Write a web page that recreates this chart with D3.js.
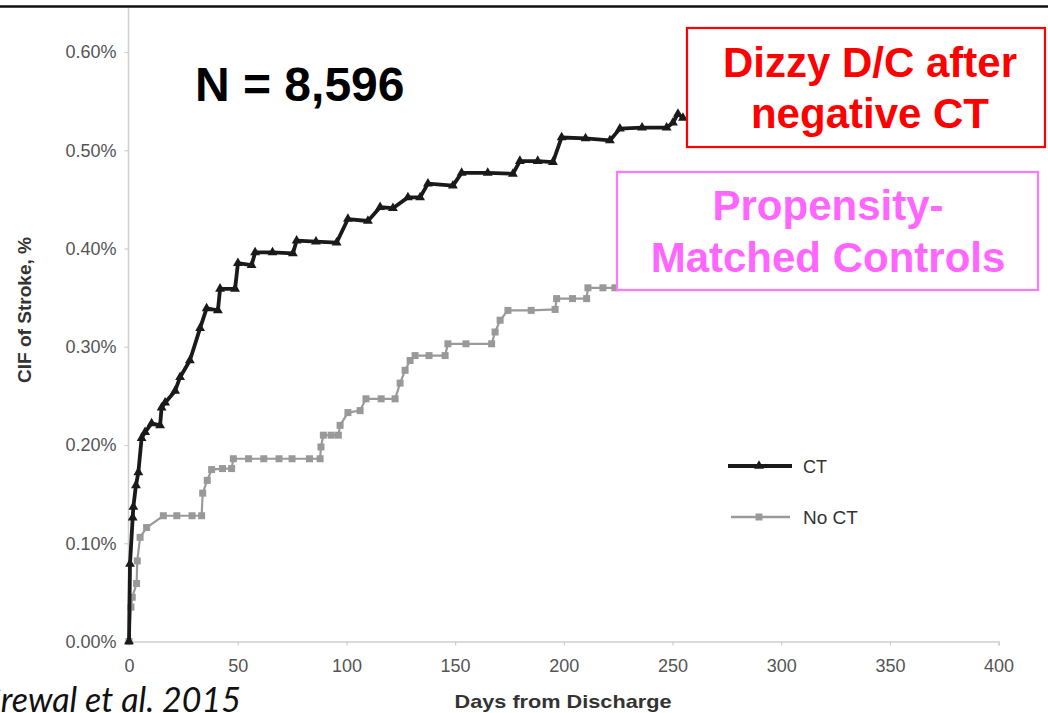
<!DOCTYPE html>
<html>
<head>
<meta charset="utf-8">
<script src="https://cdn.jsdelivr.net/npm/d3@7"></script>
<style>
  html, body { margin: 0; padding: 0; background: #fff; }
  svg { display: block; }
</style>
</head>
<body>
<svg id="chart" width="1048" height="713"></svg>
<script>
// ---- Data ----
const ctDays = [0, 0.46, 1.7, 2.0, 3.2, 4.3, 5.8, 7.4, 10.4, 14.3, 15.0, 16.6, 21.2, 23.5, 28, 32.7, 35.7, 40.9, 41.9, 48.8, 50.1, 56.4, 58, 66, 75.4, 77.1, 86, 95.5, 100.7, 109.9, 115.5, 121.4, 128.3, 133.9, 137.5, 149, 153, 165, 176.6, 179.8, 188, 195, 199, 210, 221.2, 225.8, 236, 247.3, 250.2, 252.5, 254.8];
const ctValues = [0, 0.079, 0.126, 0.137, 0.159, 0.172, 0.207, 0.213, 0.222, 0.220, 0.238, 0.243, 0.255, 0.269, 0.286, 0.319, 0.339, 0.337, 0.359, 0.359, 0.385, 0.383, 0.396, 0.396, 0.395, 0.408, 0.407, 0.406, 0.430, 0.428, 0.442, 0.441, 0.452, 0.452, 0.466, 0.464, 0.477, 0.477, 0.476, 0.489, 0.489, 0.488, 0.513, 0.512, 0.510, 0.522, 0.523, 0.523, 0.528, 0.537, 0.533];

const noCtDays = [0, 0.9, 1.5, 3.5, 3.8, 5.1, 8.1, 15.8, 22, 29, 33.4, 33.9, 36, 38, 43, 47.2, 48, 55, 62, 69, 75, 83, 87.9, 88.3, 89.4, 93, 96.3, 97.1, 100.7, 106.3, 109, 116, 122.4, 124.7, 127, 129.3, 131.6, 138, 145.4, 146.7, 155, 166.8, 168.4, 170.7, 174.3, 185, 196, 196.7, 204, 210.5, 211.1, 218, 223.5];
const noCtValues = [0, 0.035, 0.045, 0.059, 0.082, 0.106, 0.116, 0.128, 0.128, 0.128, 0.128, 0.151, 0.164, 0.175, 0.176, 0.176, 0.186, 0.186, 0.186, 0.186, 0.186, 0.186, 0.186, 0.198, 0.210, 0.210, 0.210, 0.220, 0.233, 0.235, 0.247, 0.247, 0.247, 0.263, 0.276, 0.286, 0.291, 0.291, 0.291, 0.303, 0.303, 0.303, 0.315, 0.327, 0.337, 0.337, 0.338, 0.349, 0.349, 0.349, 0.360, 0.360, 0.360];

const xTicks = [0, 50, 100, 150, 200, 250, 300, 350, 400];
const yTicks = [0, 0.1, 0.2, 0.3, 0.4, 0.5, 0.6];
const seriesNames = ["CT", "No CT"];
const annotation = "N = 8,596";
const boxRed = ["Dizzy D/C after", "negative CT"];
const boxPink = ["Propensity-", "Matched Controls"];
const citation = "Grewal et al. 2015";
const xTitle = "Days from Discharge";
const yTitle = "CIF of Stroke, %";

// ---- Drawing ----
const svg = d3.select("#chart");
const x = d3.scaleLinear().domain([0, 400]).range([129, 998.6]);
const y = d3.scaleLinear().domain([0, 0.6]).range([641.5, 52]);
const FONT = "Liberation Sans, Arial, sans-serif";

// top frame line
svg.append("line").attr("x1", 0).attr("x2", 1048).attr("y1", 6.5).attr("y2", 6.5)
  .attr("stroke", "#111").attr("stroke-width", 2.5);

// y axis line (extends to the top frame)
svg.append("line").attr("x1", 128.5).attr("x2", 128.5).attr("y1", 8).attr("y2", y(0))
  .attr("stroke", "#cfcfcf").attr("stroke-width", 1.5);

// y axis ticks + labels
const yAxis = d3.axisLeft(y).tickValues(yTicks).tickSize(4).tickPadding(8)
  .tickFormat(d => d3.format(".2f")(d) + "%");
const gy = svg.append("g").attr("transform", "translate(128.5,0)").call(yAxis);
gy.select(".domain").remove();
gy.selectAll(".tick line").attr("stroke", "#cfcfcf").attr("stroke-width", 1.2);
gy.selectAll(".tick text").attr("fill", "#555").attr("font-size", 18).attr("font-family", FONT);

// x axis
const xAxis = d3.axisBottom(x).tickValues(xTicks).tickSize(4).tickPadding(14);
const gx = svg.append("g").attr("transform", `translate(0,${y(0)})`).call(xAxis);
gx.select(".domain").attr("stroke", "#cfcfcf").attr("stroke-width", 1.5);
gx.selectAll(".tick line").attr("stroke", "#cfcfcf").attr("stroke-width", 1.2);
gx.selectAll(".tick text").attr("fill", "#555").attr("font-size", 18).attr("font-family", FONT);

// axis titles
svg.append("text").attr("x", 563).attr("y", 708).attr("text-anchor", "middle")
  .attr("font-family", FONT).attr("font-weight", "bold")
  .attr("font-size", 19).attr("fill", "#333").attr("textLength", 217)
  .attr("lengthAdjust", "spacingAndGlyphs").text(xTitle);
svg.append("text").attr("transform", "translate(31,310) rotate(-90)").attr("text-anchor", "middle")
  .attr("font-family", FONT).attr("font-weight", "bold")
  .attr("font-size", 18).attr("fill", "#333").attr("textLength", 146)
  .attr("lengthAdjust", "spacingAndGlyphs").text(yTitle);

// series
const ct = ctDays.map((d, i) => [d, ctValues[i]]);
const noct = noCtDays.map((d, i) => [d, noCtValues[i]]);
const line = d3.line().x(d => x(d[0])).y(d => y(d[1]));

svg.append("path").datum(noct).attr("d", line).attr("fill", "none")
  .attr("stroke", "#9a9a9a").attr("stroke-width", 2.2);
svg.append("g").selectAll("rect").data(noct).join("rect")
  .attr("x", d => x(d[0]) - 3.5).attr("y", d => y(d[1]) - 3.5)
  .attr("width", 7).attr("height", 7).attr("fill", "#999");

svg.append("path").datum(ct).attr("d", line).attr("fill", "none")
  .attr("stroke", "#1a1a1a").attr("stroke-width", 3.8).attr("stroke-linejoin", "round");
const tri = d3.symbol().type(d3.symbolTriangle).size(42);
svg.append("g").selectAll("path").data(ct).join("path")
  .attr("transform", d => `translate(${x(d[0])},${y(d[1])})`)
  .attr("d", tri).attr("fill", "#1a1a1a");

// legend
const lg = svg.append("g");
lg.append("line").attr("x1", 728).attr("x2", 792).attr("y1", 466).attr("y2", 466)
  .attr("stroke", "#1a1a1a").attr("stroke-width", 4);
lg.append("path").attr("transform", "translate(759,466)").attr("d", tri).attr("fill", "#1a1a1a");
lg.append("text").attr("x", 803).attr("y", 473).attr("font-size", 18)
  .attr("font-family", FONT).attr("fill", "#333").text(seriesNames[0]);
lg.append("line").attr("x1", 731).attr("x2", 790).attr("y1", 517).attr("y2", 517)
  .attr("stroke", "#9a9a9a").attr("stroke-width", 2.5);
lg.append("rect").attr("x", 755.5).attr("y", 513.5).attr("width", 7).attr("height", 7).attr("fill", "#999");
lg.append("text").attr("x", 803).attr("y", 524).attr("font-size", 19)
  .attr("font-family", FONT).attr("fill", "#333").text(seriesNames[1]);

// N annotation
svg.append("text").attr("x", 195).attr("y", 101).attr("font-size", 48).attr("font-weight", "bold")
  .attr("font-family", FONT).attr("fill", "#000").text(annotation);

// red box
svg.append("rect").attr("x", 687).attr("y", 28).attr("width", 358).attr("height", 119)
  .attr("fill", "#fff").attr("stroke", "#ff0000").attr("stroke-width", 2.2);
boxRed.forEach((t, i) => {
  svg.append("text").attr("x", 870).attr("y", 77 + i * 51).attr("text-anchor", "middle")
    .attr("font-size", 42).attr("font-weight", "bold")
    .attr("font-family", FONT).attr("fill", "#ff0000").text(t);
});

// pink box
svg.append("rect").attr("x", 617).attr("y", 172).attr("width", 421).attr("height", 118)
  .attr("fill", "#fff").attr("stroke", "#ff77ff").attr("stroke-width", 2.2);
boxPink.forEach((t, i) => {
  svg.append("text").attr("x", 828).attr("y", 220 + i * 52).attr("text-anchor", "middle")
    .attr("font-size", 42).attr("font-weight", "bold")
    .attr("font-family", FONT).attr("fill", "#ff66ff").text(t);
});

// citation (leading letter runs off the left edge, as in the reference)
const citFont = "Lato, 'Open Sans', sans-serif";
function measure(str, size) {
  const t = svg.append("text").attr("font-size", size).attr("font-style", "italic")
    .attr("font-family", citFont).text(str);
  const w = t.node().getComputedTextLength();
  t.remove();
  return w;
}
const baseSize = 30;
const visW = measure(citation, baseSize) - measure(citation[0], baseSize);
const citSize = baseSize * 240 / visW;
const gW = measure(citation[0], citSize);
svg.append("text").attr("x", -gW + 1).attr("y", 712).attr("font-size", citSize)
  .attr("font-style", "italic").attr("font-family", citFont).attr("fill", "#111").text(citation);
</script>
</body>
</html>
